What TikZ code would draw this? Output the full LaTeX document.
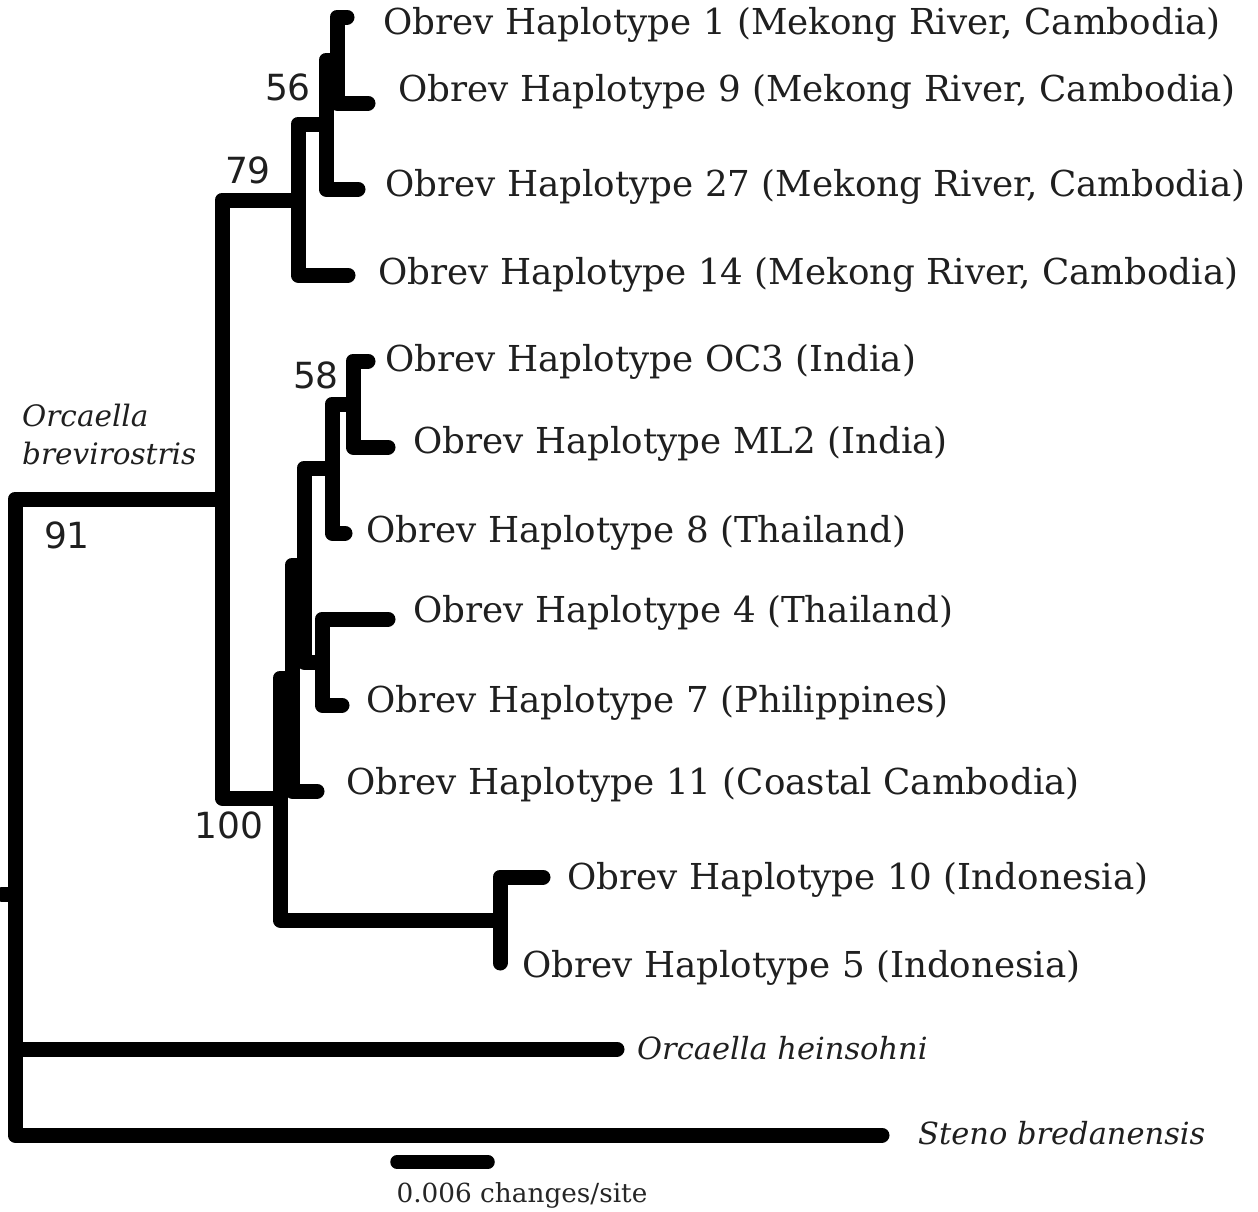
\documentclass[tikz,border=0pt]{standalone}
\usepackage{fontspec}
\setmainfont{DejaVu Serif}
\newfontfamily\numfont{DejaVu Sans}
\begin{document}
\begin{tikzpicture}[x=1pt,y=-1pt,
  br/.style={line width=15pt, line cap=round, line join=round},
  tiplab/.style={anchor=west, inner sep=0pt, font=\fontsize{35.7}{42}\selectfont, text=black!88},
  ital/.style={anchor=west, inner sep=0pt, font=\fontsize{30.5}{36}\selectfont\itshape, text=black!88},
  boot/.style={inner sep=0pt, font=\fontsize{36}{42}\selectfont\numfont, text=black!88},
  scalelab/.style={inner sep=0pt, font=\fontsize{26.3}{30}\selectfont, text=black!85}]
\useasboundingbox (0,0) rectangle (1258,1211);
% coordinates
\coordinate (R0) at (2,894);
\coordinate (R) at (15,894);
\coordinate (Brev) at (222,499);
\coordinate (Hein) at (617,1049);
\coordinate (Steno) at (882,1135);
\coordinate (C) at (298,200);
\coordinate (V) at (280,798);
\coordinate (B) at (326,124);
\coordinate (T14) at (348,275);
\coordinate (A) at (337,60);
\coordinate (T27) at (358,189);
\coordinate (T1) at (347,17);
\coordinate (T9) at (368,103);
\coordinate (W) at (292,678);
\coordinate (H105) at (500,920);
\coordinate (Y) at (304,565);
\coordinate (T11) at (317,791);
\coordinate (X2) at (332,468);
\coordinate (H47) at (322,662);
\coordinate (X) at (353,404);
\coordinate (T8) at (345,533);
\coordinate (OC3) at (368,361);
\coordinate (ML2) at (388,447);
\coordinate (T4) at (388,619);
\coordinate (T7) at (342,705);
\coordinate (T10) at (543,877);
\coordinate (T5) at (500,963);
\coordinate (S1) at (397,1162);
\coordinate (S2) at (488,1162);
% branches
\draw[br] (R0) -- (R);
\draw[br] (R) |- (Brev);
\draw[br] (R) |- (Hein);
\draw[br] (R) |- (Steno);
\draw[br] (Brev) |- (C);
\draw[br] (Brev) |- (V);
\draw[br] (C) |- (B);
\draw[br] (C) |- (T14);
\draw[br] (B) |- (A);
\draw[br] (B) |- (T27);
\draw[br] (A) |- (T1);
\draw[br] (A) |- (T9);
\draw[br] (V) |- (W);
\draw[br] (V) |- (H105);
\draw[br] (W) |- (Y);
\draw[br] (W) |- (T11);
\draw[br] (Y) |- (X2);
\draw[br] (Y) |- (H47);
\draw[br] (X2) |- (X);
\draw[br] (X2) |- (T8);
\draw[br] (X) |- (OC3);
\draw[br] (X) |- (ML2);
\draw[br] (H47) |- (T4);
\draw[br] (H47) |- (T7);
\draw[br] (H105) |- (T10);
\draw[br] (H105) |- (T5);
\draw[br, line width=13.5pt] (S1) -- (S2);
% tip labels
\node[tiplab] (L1) at (383,25) {Obrev Haplotype 1 (Mekong River, Cambodia)};
\node[tiplab] (L9) at (398,92) {Obrev Haplotype 9 (Mekong River, Cambodia)};
\node[tiplab] (L27) at (385,187) {Obrev Haplotype 27 (Mekong River, Cambodia)};
\node[tiplab] (L14) at (378,275) {Obrev Haplotype 14 (Mekong River, Cambodia)};
\node[tiplab] (LOC3) at (385,362) {Obrev Haplotype OC3 (India)};
\node[tiplab] (LML2) at (413,444) {Obrev Haplotype ML2 (India)};
\node[tiplab] (L8) at (366,533) {Obrev Haplotype 8 (Thailand)};
\node[tiplab] (L4) at (413,613) {Obrev Haplotype 4 (Thailand)};
\node[tiplab] (L7) at (366,703) {Obrev Haplotype 7 (Philippines)};
\node[tiplab] (L11) at (346,785) {Obrev Haplotype 11 (Coastal Cambodia)};
\node[tiplab] (L10) at (567,880) {Obrev Haplotype 10 (Indonesia)};
\node[tiplab] (L5) at (522,968) {Obrev Haplotype 5 (Indonesia)};
\node[ital] (LHein) at (637,1048) {Orcaella heinsohni};
\node[ital] (LSteno) at (918,1133) {Steno bredanensis};
\node[ital, align=left, font=\fontsize{29.5}{38}\selectfont\itshape] (LBrev) at (22,434) {Orcaella\\brevirostris};
% support values
\node[boot] (b56) at (288,87) {56};
\node[boot] (b79) at (248,170) {79};
\node[boot] (b58) at (316,375) {58};
\node[boot] (b91) at (67,535) {91};
\node[boot] (b100) at (229,825) {100};
\node[scalelab] (SL) at (522,1195) {0.006 changes/site};
\end{tikzpicture}
\end{document}
